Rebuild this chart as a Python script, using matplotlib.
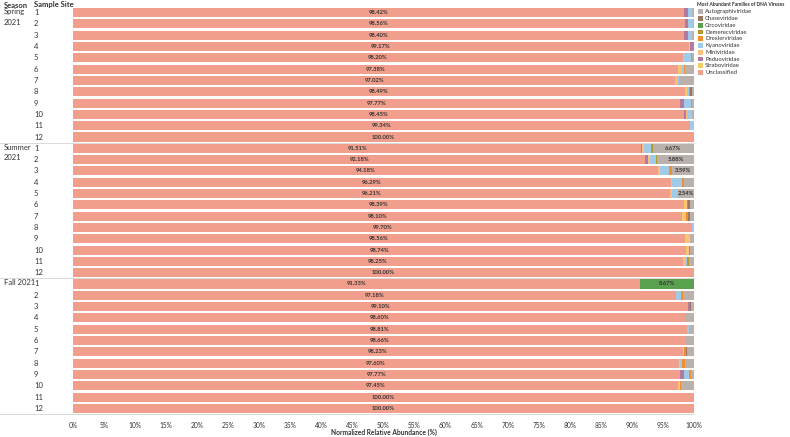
import matplotlib.pyplot as plt
from matplotlib.patches import Rectangle
import numpy as np

plt.rcParams['font.family'] = ['Lato', 'DejaVu Sans']

# seasons and sites (rows, top to bottom)
seasons = ['Spring\n2021', 'Summer\n2021', 'Fall 2021']
sites = [str(i) for i in range(1, 13)]

# stacked order, left to right
families = ['Unclassified', 'Straboviridae', 'Peduoviridae', 'Miniviridae', 'Kyanoviridae',
            'Drexlerviridae', 'Demerecviridae', 'Circoviridae', 'Chaseviridae', 'Autographiviridae']
colors = {
    'Autographiviridae': '#BAB0AC',
    'Chaseviridae': '#9D7660',
    'Circoviridae': '#59A14F',
    'Demerecviridae': '#B6992D',
    'Drexlerviridae': '#F28E2B',
    'Kyanoviridae': '#A0CBE8',
    'Miniviridae': '#FFBE7D',
    'Peduoviridae': '#B07AA1',
    'Straboviridae': '#F1CE63',
    'Unclassified': '#F19E8C',
}

# values in %, 36 rows: spring 1-12, summer 1-12, fall 1-12
unclassified = [98.42, 98.56, 98.40, 99.17, 98.20, 97.38, 97.02, 98.49, 97.77, 98.45, 99.34, 100.00,
                91.51, 92.18, 94.18, 96.29, 96.21, 98.39, 98.10, 99.70, 98.56, 98.74, 98.25, 100.00,
                91.33, 97.18, 99.10, 98.60, 98.81, 98.66, 98.23, 97.60, 97.77, 97.45, 100.00, 100.00]
straboviridae = [0, 0, 0, 0.2, 0, 0.2, 0, 0.45, 0, 0, 0, 0,
                 0, 0, 0, 0, 0, 0.3, 0.3, 0, 0.5, 0.3, 0, 0,
                 0, 0, 0, 0, 0, 0, 0, 0, 0, 0, 0, 0]
peduoviridae = [0.6, 0.5, 0.7, 0.63, 0, 0, 0, 0, 0.7, 0.2, 0, 0,
                0.15, 0.4, 0, 0, 0, 0, 0, 0, 0, 0, 0, 0,
                0, 0, 0.3, 0, 0, 0, 0, 0, 0.6, 0, 0, 0]
miniviridae = [0, 0, 0, 0, 0.15, 0.3, 0.2, 0, 0, 0.3, 0, 0,
               0.3, 0.3, 0.4, 0.2, 0.25, 0.2, 0.3, 0, 0.3, 0.2, 0.3, 0,
               0, 0, 0, 0, 0, 0, 0.2, 0.2, 0, 0.3, 0, 0]
kyanoviridae = [0.7, 0.7, 0.6, 0, 1.1, 0.5, 0.4, 0.2, 1.0, 0.7, 0.66, 0,
                1.15, 1.0, 1.4, 1.6, 1.0, 0, 0, 0.3, 0, 0, 0.4, 0,
                0, 0.8, 0, 0, 0.4, 0, 0, 0.3, 0.9, 0, 0, 0]
drexlerviridae = [0, 0, 0, 0, 0.2, 0.2, 0, 0.2, 0.2, 0, 0, 0,
                  0, 0, 0.43, 0.3, 0, 0, 0.3, 0, 0, 0, 0, 0,
                  0, 0.3, 0, 0, 0, 0, 0.3, 0.4, 0.2, 0.2, 0, 0]
demerecviridae = [0, 0, 0, 0, 0, 0, 0, 0, 0, 0, 0, 0,
                  0.22, 0.24, 0, 0, 0, 0.2, 0, 0, 0, 0.1, 0.2, 0,
                  0, 0, 0, 0, 0, 0, 0, 0, 0.1, 0, 0, 0]
circoviridae = [0] * 24 + [8.67] + [0] * 11
chaseviridae = [0, 0, 0, 0, 0, 0, 0, 0.4, 0, 0, 0, 0,
                0, 0, 0, 0, 0, 0.2, 0.3, 0, 0, 0, 0, 0,
                0, 0, 0.1, 0, 0, 0, 0.2, 0, 0, 0, 0, 0]
autographiviridae = [0.28, 0.24, 0.30, 0, 0.35, 1.42, 2.38, 0.26, 0.33, 0.35, 0, 0,
                     6.67, 5.88, 3.59, 1.61, 2.54, 0.71, 0.70, 0, 0.64, 0.66, 0.85, 0,
                     0, 1.72, 0.50, 1.40, 0.79, 1.34, 1.07, 1.50, 0.43, 2.05, 0, 0]

values = {
    'Unclassified': unclassified, 'Straboviridae': straboviridae, 'Peduoviridae': peduoviridae,
    'Miniviridae': miniviridae, 'Kyanoviridae': kyanoviridae, 'Drexlerviridae': drexlerviridae,
    'Demerecviridae': demerecviridae, 'Circoviridae': circoviridae, 'Chaseviridae': chaseviridae,
    'Autographiviridae': autographiviridae,
}

fig = plt.figure(figsize=(7.9, 4.37), dpi=100)
ax = fig.add_axes([73 / 790, 1 - 414 / 437, 621 / 790, 407 / 437])

n = len(unclassified)
y = np.arange(n)
left = np.zeros(n)
txt = '#333333'
for fam in families:
    v = np.array(values[fam], dtype=float)
    ax.barh(y, v, left=left, height=0.8, color=colors[fam], linewidth=0)
    # labels for wide segments
    for i in range(n):
        if fam == 'Unclassified' or v[i] >= 2.5:
            ax.text(left[i] + v[i] / 2, y[i], f'{v[i]:.2f}%', ha='center', va='center',
                    fontsize=4.2, fontweight='bold', color=txt)
    left += v

ax.set_xlim(0, 100)
ax.set_ylim(n - 0.5, -0.5)
ax.set_yticks([])
ticks = np.arange(0, 101, 5)
ax.set_xticks(ticks)
ax.set_xticklabels([f'{t}%' for t in ticks], fontsize=4.8, color=txt)
ax.tick_params(axis='x', length=0, pad=5.5)
for s in ax.spines.values():
    s.set_visible(False)
fig.text(383.5 / 790, 1 - 432 / 437, 'Normalized Relative Abundance (%)', fontsize=4.8,
         fontweight='bold', color=txt, ha='center', va='center')

# left headers and row labels
fig.text(4 / 790, 1 - 5 / 437, 'Season', fontsize=5.5, fontweight='bold', color=txt, va='center')
fig.text(34 / 790, 1 - 5 / 437, 'Sample Site', fontsize=5.5, fontweight='bold', color=txt, va='center')
xs_season = (4 - 73) / 621
xs_site = (34 - 73) / 621
xs_line = -73 / 621
for k, season in enumerate(seasons):
    ax.text(xs_season, k * 12 - 0.4, season, transform=ax.get_yaxis_transform(), fontsize=5.5,
            color=txt, va='top', ha='left', linespacing=1.6)
    for j, site in enumerate(sites):
        ax.text(xs_site, k * 12 + j, site, transform=ax.get_yaxis_transform(), fontsize=5.5,
                color=txt, va='center', ha='left')
    if k > 0:
        ax.plot([xs_line, 1.0], [k * 12 - 0.5] * 2, transform=ax.get_yaxis_transform(),
                color='#d4d4d4', lw=0.6, clip_on=False)
ax.plot([xs_line, 1.0], [n - 0.5] * 2, transform=ax.get_yaxis_transform(),
        color='#d4d4d4', lw=0.6, clip_on=False)

# legend
fig.text(697 / 790, 1 - 5 / 437, 'Most Abundant Families of DNA Viruses', fontsize=3.5,
         fontweight='bold', color=txt, va='center')
for i, fam in enumerate(sorted(families)):
    yc = 1 - (11.8 + i * 6.75) / 437
    fig.patches.append(Rectangle((698 / 790, yc - 2.4 / 437), 4.8 / 790, 4.8 / 437,
                                 transform=fig.transFigure, color=colors[fam], lw=0))
    fig.text(705 / 790, yc, fam, fontsize=4.3, color=txt, va='center')

fig.savefig('out.png', dpi=100)
